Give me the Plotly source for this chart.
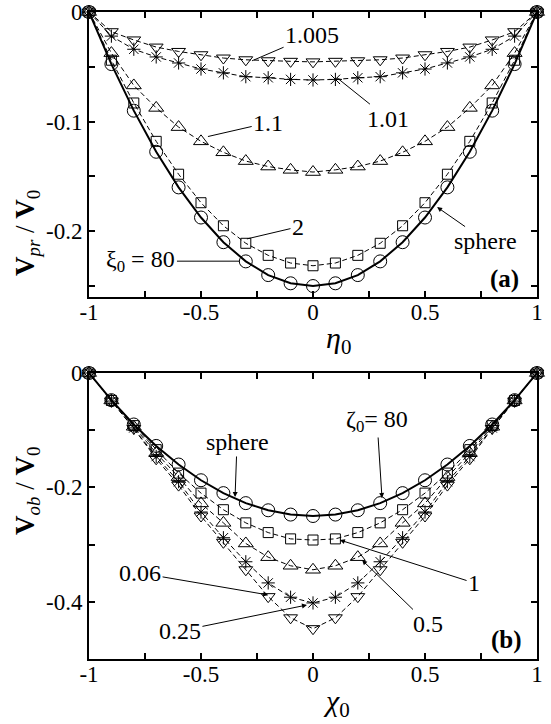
import plotly.graph_objects as go

# ---------------- data ----------------
x_vals = [-1.0, -0.9, -0.8, -0.7, -0.6, -0.5, -0.4, -0.3, -0.2, -0.1, 0.0,
          0.1, 0.2, 0.3, 0.4, 0.5, 0.6, 0.7, 0.8, 0.9, 1.0]

# panel (a): V_pr / V_0 vs eta_0
a_sphere = [0, -0.0475, -0.09, -0.1275, -0.16, -0.1875, -0.21, -0.2275, -0.24, -0.2475, -0.25,
            -0.2475, -0.24, -0.2275, -0.21, -0.1875, -0.16, -0.1275, -0.09, -0.0475, 0]
a_xi2 = [0, -0.044, -0.083, -0.118, -0.148, -0.174, -0.195, -0.211, -0.222, -0.229, -0.2315,
         -0.229, -0.222, -0.211, -0.195, -0.174, -0.148, -0.118, -0.083, -0.044, 0]
a_xi1_1 = [0, -0.0375, -0.067, -0.0875, -0.105, -0.118, -0.128, -0.136, -0.141, -0.144, -0.146,
           -0.144, -0.141, -0.136, -0.128, -0.118, -0.105, -0.0875, -0.067, -0.0375, 0]
a_xi1_01 = [0, -0.022, -0.034, -0.041, -0.0465, -0.052, -0.0555, -0.059, -0.060, -0.0615, -0.062,
            -0.0615, -0.060, -0.059, -0.0555, -0.052, -0.0465, -0.041, -0.034, -0.022, 0]
a_xi1_005 = [0, -0.018, -0.0255, -0.032, -0.036, -0.039, -0.042, -0.0436, -0.0445, -0.045, -0.0455,
             -0.045, -0.0445, -0.0436, -0.042, -0.039, -0.036, -0.032, -0.0255, -0.018, 0]

# panel (b): V_ob / V_0 vs chi_0
b_sphere = [0, -0.0475, -0.09, -0.1275, -0.16, -0.1875, -0.21, -0.2275, -0.24, -0.2475, -0.25,
            -0.2475, -0.24, -0.2275, -0.21, -0.1875, -0.16, -0.1275, -0.09, -0.0475, 0]
b_z1 = [0, -0.048, -0.092, -0.134, -0.175, -0.21, -0.239, -0.262, -0.279, -0.29, -0.292,
        -0.29, -0.279, -0.262, -0.239, -0.21, -0.175, -0.134, -0.092, -0.048, 0]
b_z05 = [0, -0.048, -0.094, -0.14, -0.182, -0.228, -0.262, -0.298, -0.322, -0.337, -0.344,
         -0.337, -0.322, -0.298, -0.262, -0.228, -0.182, -0.14, -0.094, -0.048, 0]
b_z025 = [0, -0.049, -0.096, -0.146, -0.19, -0.243, -0.288, -0.33, -0.367, -0.392, -0.402,
          -0.392, -0.367, -0.33, -0.288, -0.243, -0.19, -0.146, -0.096, -0.049, 0]
b_z006 = [0, -0.049, -0.097, -0.15, -0.196, -0.25, -0.296, -0.344, -0.391, -0.428, -0.447,
          -0.428, -0.391, -0.344, -0.296, -0.25, -0.196, -0.15, -0.097, -0.049, 0]

x_tickvals = [-1, -0.5, 0, 0.5, 1]
x_ticktext = ["-1", "-0.5", "0", "0.5", "1"]
ya_tickvals = [0, -0.1, -0.2]
ya_ticktext = ["0", "-0.1", "-0.2"]
yb_tickvals = [0, -0.2, -0.4]
yb_ticktext = ["0", "-0.2", "-0.4"]

FONT = "Liberation Serif"
W, H = 551, 724

fig = go.Figure()

def add_series(y, symbol, size, xa, ya, solid=False):
    fig.add_trace(go.Scatter(
        x=x_vals, y=y, mode="lines+markers", xaxis=xa, yaxis=ya,
        cliponaxis=False, showlegend=False, hoverinfo="skip",
        line=dict(color="black", width=2 if solid else 1, dash="solid" if solid else "5px,3px"),
        marker=dict(symbol=symbol, size=size, color="black",
                    line=dict(color="black", width=1)),
    ))

# panel a
add_series(a_xi1_005, "triangle-down-open", 12, "x", "y")
add_series(a_xi1_01, "asterisk-open", 11, "x", "y")
add_series(a_xi1_1, "triangle-up-open", 13, "x", "y")
add_series(a_xi2, "square-open", 10, "x", "y")
add_series(a_sphere, "circle-open", 13, "x", "y", solid=True)
# panel b
add_series(b_z006, "triangle-down-open", 12, "x2", "y2")
add_series(b_z025, "asterisk-open", 11, "x2", "y2")
add_series(b_z05, "triangle-up-open", 13, "x2", "y2")
add_series(b_z1, "square-open", 10, "x2", "y2")
add_series(b_sphere, "circle-open", 13, "x2", "y2", solid=True)

xdom = [89 / W, 537 / W]
minor_tick = dict(ticks="inside", ticklen=6, tickwidth=1.5, tickcolor="black")
axis_common = dict(showline=True, linecolor="black", linewidth=2, mirror="allticks",
                   ticks="inside", ticklen=6, tickwidth=1.5, tickcolor="black",
                   showgrid=False, zeroline=False, automargin=False, fixedrange=True,
                   tickfont=dict(family=FONT, size=23, color="black"))

fig.update_layout(
    width=W, height=H, margin=dict(l=0, r=0, t=0, b=0, pad=0, autoexpand=False),
    paper_bgcolor="white", plot_bgcolor="white",
    xaxis=dict(domain=xdom, range=[-1, 1], anchor="y", tickmode="array",
               tickvals=x_tickvals, ticktext=x_ticktext, ticklabelstandoff=-7,
               minor=dict(tick0=-1, dtick=0.25, **minor_tick), **axis_common),
    yaxis=dict(domain=[1 - 297 / H, 1 - 12 / H], range=[-0.26, 0], anchor="x", tickmode="array",
               tickvals=ya_tickvals, ticktext=ya_ticktext,
               minor=dict(tick0=0, dtick=0.05, **minor_tick), **axis_common),
    xaxis2=dict(domain=xdom, range=[-1, 1], anchor="y2", tickmode="array",
                tickvals=x_tickvals, ticktext=x_ticktext, ticklabelstandoff=-7,
                minor=dict(tick0=-1, dtick=0.25, **minor_tick), **axis_common),
    yaxis2=dict(domain=[1 - 659 / H, 1 - 373 / H], range=[-0.5, 0], anchor="x2", tickmode="array",
                tickvals=yb_tickvals, ticktext=yb_ticktext,
                minor=dict(tick0=0, dtick=0.1, **minor_tick), **axis_common),
)

LBL = dict(family=FONT, size=24, color="black")

def label(text, xh, yh, xt, yt, xa, ya, head=0, font=LBL):
    fig.add_annotation(text=text, x=xh, y=yh, ax=xt, ay=yt, xref=xa, yref=ya,
                       axref=xa, ayref=ya, showarrow=True, arrowhead=head,
                       arrowsize=1, arrowwidth=1, arrowcolor="black", font=font,
                       standoff=0, startstandoff=0)

def text(t, x, y, xa, ya, font=LBL):
    fig.add_annotation(text=t, x=x, y=y, xref=xa, yref=ya, showarrow=False, font=font)

# panel a labels
label("1.005", -0.272, -0.0445, -0.004, -0.021, "x", "y")
label("1.01", 0.107, -0.060, 0.335, -0.0973, "x", "y")
label("1.1", -0.469, -0.1136, -0.20, -0.101, "x", "y")
label("2", -0.295, -0.207, -0.067, -0.196, "x", "y")
label("ξ<sub>0</sub> = 80", -0.326, -0.2273, -0.768, -0.2273, "x", "y")
label("sphere", 0.554, -0.178, 0.772, -0.209, "x", "y", head=2)
text("<b>(a)</b>", 0.857, -0.2436, "x", "y", font=dict(family=FONT, size=25, color="black"))

# panel b labels
label("sphere", -0.348, -0.2168, -0.339, -0.1206, "x2", "y2", head=2)
label("ζ<sub>0</sub>= 80", 0.308, -0.2185, 0.286, -0.0839, "x2", "y2", head=2)
label("0.06", -0.20, -0.388, -0.772, -0.3497, "x2", "y2", head=2)
label("0.25", -0.027, -0.4056, -0.594, -0.451, "x2", "y2", head=2)
label("0.5", 0.219, -0.327, 0.513, -0.4388, "x2", "y2", head=2)
label("1", 0.12, -0.292, 0.719, -0.367, "x2", "y2", head=2)
text("<b>(b)</b>", 0.862, -0.4668, "x2", "y2", font=dict(family=FONT, size=25, color="black"))

# axis titles
TF = dict(family=FONT, size=27, color="black")
fig.add_annotation(text="<b>V</b><sub><i>pr</i></sub> / <b>V</b><sub>0</sub>", x=8 / W, y=1 - 188 / H,
                   xref="paper", yref="paper", showarrow=False, textangle=-90, font=TF)
fig.add_annotation(text="<b>V</b><sub><i>ob</i></sub> / <b>V</b><sub>0</sub>", x=8 / W, y=1 - 537 / H,
                   xref="paper", yref="paper", showarrow=False, textangle=-90, font=TF)
fig.add_annotation(text="<i>η</i><sub>0</sub>", x=338 / W, y=1 - 340 / H,
                   xref="paper", yref="paper", showarrow=False, font=dict(family=FONT, size=30, color="black"))
fig.add_annotation(text="<i>χ</i><sub>0</sub>", x=336 / W, y=1 - 724 / H, yanchor="bottom",
                   xref="paper", yref="paper", showarrow=False, font=dict(family=FONT, size=30, color="black"))

fig.write_html("out.html", config={"displayModeBar": False},
               post_script="document.body.style.margin='0px';")
